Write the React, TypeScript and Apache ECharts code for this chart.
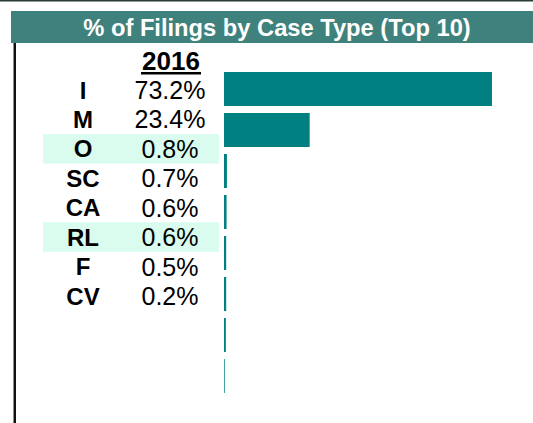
import React, { useEffect, useRef } from "react";
import * as echarts from "echarts";

const title = "% of Filings by Case Type (Top 10)";
const yearLabel = "2016";
const caseTypes = ["I", "M", "O", "SC", "CA", "RL", "F", "CV"];
const shares = [73.2, 23.4, 0.8, 0.7, 0.6, 0.6, 0.5, 0.2];
const highlightedRows = ["O", "RL"];

const W = 533;
const H = 423;

export default function App() {
  const ref = useRef<HTMLDivElement>(null);

  useEffect(() => {
    if (!ref.current) return;
    const chart = echarts.init(ref.current, null, { renderer: "svg" });

    const rowTop = 90;
    const rowPitch = 29.43;
    const font = "'Liberation Sans', Arial, sans-serif";

    const graphics: any[] = [];
    // top dark line
    graphics.push({ type: "rect", shape: { x: 0, y: 0, width: W, height: 1.5 }, style: { fill: "#2b3d35" }, silent: true });
    // title bar
    graphics.push({ type: "rect", shape: { x: 11, y: 11, width: W - 11, height: 32 }, style: { fill: "#3f817d" }, silent: true });
    graphics.push({
      type: "text",
      x: 277,
      y: 27.5,
      style: { text: title, fill: "#ffffff", font: `bold 23.7px ${font}`, textAlign: "center", textVerticalAlign: "middle" },
      silent: true,
    });
    // left vertical line
    graphics.push({ type: "rect", shape: { x: 13, y: 43, width: 1, height: H - 43 }, style: { fill: "#8a8a8a" }, silent: true });
    graphics.push({ type: "rect", shape: { x: 14, y: 43, width: 2, height: H - 43 }, style: { fill: "#111111" }, silent: true });

    // highlight rows
    caseTypes.forEach((c, i) => {
      if (highlightedRows.includes(c)) {
        const cy = rowTop + i * rowPitch;
        graphics.push({
          type: "rect",
          shape: { x: 43, y: cy - 14.8, width: 176, height: 29.4 },
          style: { fill: "#d9fcee" },
          silent: true,
        });
      }
    });

    // year header
    graphics.push({
      type: "text",
      x: 171,
      y: 60.5,
      style: { text: yearLabel, fill: "#000000", font: `bold 26px ${font}`, textAlign: "center", textVerticalAlign: "middle" },
      silent: true,
    });
    graphics.push({ type: "rect", shape: { x: 141, y: 72, width: 60, height: 2.5 }, style: { fill: "#000000" }, silent: true });

    caseTypes.forEach((c, i) => {
      const cy = rowTop + i * rowPitch;
      graphics.push({
        type: "text",
        x: 83,
        y: cy,
        style: { text: c, fill: "#000000", font: `bold 24px ${font}`, textAlign: "center", textVerticalAlign: "middle" },
        silent: true,
      });
      graphics.push({
        type: "text",
        x: 170,
        y: cy,
        style: { text: shares[i].toFixed(1) + "%", fill: "#000000", font: `25px ${font}`, textAlign: "center", textVerticalAlign: "middle" },
        silent: true,
      });
    });

    chart.setOption({
      animation: false,
      backgroundColor: "#ffffff",
      grid: { left: 224, width: 292.9, top: 68.5, height: 41 * caseTypes.length, containLabel: false },
      xAxis: { type: "value", min: 0, max: 80, show: false },
      yAxis: { type: "category", data: caseTypes, inverse: true, show: false },
      series: [
        {
          type: "bar",
          data: shares,
          barWidth: 34,
          itemStyle: { color: "#008080" },
          silent: true,
        },
      ],
      graphic: graphics,
    });

    return () => chart.dispose();
  }, []);

  return <div ref={ref} style={{ position: "fixed", left: 0, top: 0, width: W, height: H }} />;
}
